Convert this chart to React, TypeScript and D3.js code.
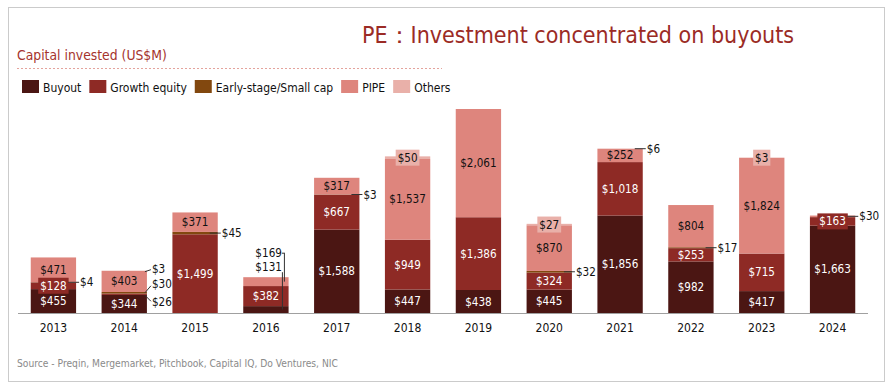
import { useEffect, useRef } from "react";
import * as d3 from "d3";

// capital invested, US$M
const years = ["2013", "2014", "2015", "2016", "2017", "2018", "2019", "2020", "2021", "2022", "2023", "2024"];
const buyout = [455, 344, 0, 131, 1588, 447, 438, 445, 1856, 982, 417, 1663];
const growth = [128, 26, 1499, 382, 667, 949, 1386, 324, 1018, 253, 715, 163];
const early = [4, 30, 45, 0, 3, 0, 0, 32, 0, 17, 0, 0];
const pipe = [471, 403, 371, 169, 317, 1537, 2061, 870, 252, 804, 1824, 30];
const others = [0, 3, 0, 0, 0, 50, 0, 27, 6, 0, 3, 0];

const seriesNames = ["Buyout", "Growth equity", "Early-stage/Small cap", "PIPE", "Others"];
const seriesValues = [buyout, growth, early, pipe, others];
const colors = ["#4b1613", "#8e2a25", "#82480f", "#de857d", "#e9b0a9"];
const darkText = [true, true, true, false, false];

const FONT = "'DejaVu Sans Condensed', 'DejaVu Sans', sans-serif";

export default function App() {
  const svgRef = useRef<SVGSVGElement>(null);

  useEffect(() => {
    if (!svgRef.current) return;
    const svg = d3.select(svgRef.current);
    svg.selectAll("*").remove();
    svg.style("font-family", FONT);

    const baseline = 313;
    const rows = years.map((yr, i) => {
      const r: Record<string, any> = { year: yr };
      seriesNames.forEach((s, k) => (r[s] = seriesValues[k][i]));
      return r;
    });
    const totals = years.map((_, i) => d3.sum(seriesValues, (v) => v[i]));

    const x = d3.scaleBand().domain(years).range([18, 868]).paddingInner(0.36).paddingOuter(0.18);
    const y = d3.scaleLinear().domain([0, d3.max(totals) as number]).range([baseline, 109]);
    const stack = d3.stack<any>().keys(seriesNames)(rows);

    // frame
    svg.append("rect").attr("x", 8.5).attr("y", 7.5).attr("width", 876).attr("height", 374)
      .attr("fill", "#fff").attr("stroke", "#cbcbcb");

    // title
    svg.append("text").attr("x", 362).attr("y", 43).attr("fill", "#9b2b25")
      .style("font-size", "23px").text("PE：Investment concentrated on buyouts");

    svg.append("text").attr("x", 17).attr("y", 60).attr("fill", "#a5342d")
      .style("font-size", "13.8px").text("Capital invested (US$M)");
    svg.append("line").attr("x1", 17).attr("x2", 442).attr("y1", 68.5).attr("y2", 68.5)
      .attr("stroke", "#e4a39c").attr("stroke-dasharray", "2,2");

    // legend
    let lx = 22;
    seriesNames.forEach((s, k) => {
      svg.append("rect").attr("x", lx).attr("y", 80).attr("width", 17).attr("height", 13).attr("fill", colors[k]);
      const t = svg.append("text").attr("x", lx + 21).attr("y", 91.5).attr("fill", "#111")
        .style("font-size", "12px").text(s);
      const w = (t.node() as SVGTextElement).getComputedTextLength();
      lx += 21 + w + 8;
    });

    // bars
    const g = svg.append("g");
    stack.forEach((layer, k) => {
      g.selectAll(null).data(layer).enter().append("rect")
        .attr("x", (d: any) => x(d.data.year) as number)
        .attr("y", (d: any) => y(d[1]))
        .attr("width", x.bandwidth())
        .attr("height", (d: any) => y(d[0]) - y(d[1]))
        .attr("fill", colors[k]);
    });

    // axis
    const axis = svg.append("g").attr("transform", `translate(0,${baseline})`)
      .call(d3.axisBottom(x).tickSize(0).tickPadding(10));
    axis.select(".domain").attr("stroke", "#a0a0a0").attr("d", "M18,0.5H868");
    axis.selectAll("text").style("font-size", "12px").style("font-family", FONT).attr("fill", "#111");

    // leader-line labels (small slices)
    const leaders: Record<string, string> = {
      "2013|2": "right", "2014|1": "diagDown", "2014|2": "diagUp", "2014|4": "up",
      "2015|2": "right", "2016|0": "stackLow", "2016|3": "stackHigh", "2017|2": "right",
      "2020|2": "right", "2021|4": "right", "2022|2": "right", "2024|3": "right",
    };

    const lab = svg.append("g").style("font-size", "11.6px");
    stack.forEach((layer, k) => {
      layer.forEach((d: any, i) => {
        const v = seriesValues[k][i];
        if (!v) return;
        const yr = years[i];
        const x0 = x(yr) as number;
        const cx = x0 + x.bandwidth() / 2;
        const right = x0 + x.bandwidth();
        const top = y(d[1]);
        const mid = (y(d[0]) + y(d[1])) / 2;
        const h = y(d[0]) - y(d[1]);
        const txt = "$" + d3.format(",")(v);
        const kind = leaders[yr + "|" + k];
        if (kind) {
          const line = (x1: number, y1: number, x2: number, y2: number) =>
            lab.append("line").attr("x1", x1).attr("y1", y1).attr("x2", x2).attr("y2", y2)
              .attr("stroke", "#333").attr("stroke-width", 1);
          const text = (tx: number, ty: number, anchor = "start") =>
            lab.append("text").attr("x", tx).attr("y", ty).attr("text-anchor", anchor)
              .attr("dominant-baseline", "central").attr("fill", "#111").text(txt);
          if (kind === "right") {
            line(right - 8, mid, right + 3, mid);
            text(right + 4, mid);
          } else if (kind === "up") {
            line(right - 2, top + 1, right + 4, top - 1);
            text(right + 5, top - 2);
          } else if (kind === "diagUp") {
            line(right - 2, mid, right + 4, mid - 7);
            text(right + 5, mid - 9);
          } else if (kind === "diagDown") {
            line(right - 2, mid + 1, right + 4, mid + 7);
            text(right + 5, mid + 8);
          } else if (kind === "stackHigh") {
            const ty = y(totals[i]) - 24;
            line(cx + 16, ty, cx + 19, ty);
            line(cx + 18.5, ty, cx + 18.5, mid);
            text(cx + 16, ty, "end");
          } else if (kind === "stackLow") {
            const ty = y(totals[i]) - 10;
            line(cx + 16.5, ty + 5, cx + 16.5, mid);
            text(cx + 16, ty, "end");
          }
          return;
        }
        if (h < 12) {
          const w = txt.length * 6.6 + 4;
          lab.append("rect").attr("x", cx - w / 2).attr("y", mid - 8).attr("width", w).attr("height", 16)
            .attr("fill", colors[k]);
        }
        lab.append("text").attr("x", cx).attr("y", mid).attr("text-anchor", "middle")
          .attr("dominant-baseline", "central").attr("fill", darkText[k] ? "#fff" : "#111").text(txt);
      });
    });

    // source
    svg.append("text").attr("x", 17).attr("y", 367).attr("fill", "#8a8a8a")
      .style("font-size", "10.2px").text("Source - Preqin, Mergemarket, Pitchbook, Capital IQ, Do Ventures, NIC");
  }, []);

  return (
    <svg ref={svgRef} width={895} height={389}
      style={{ position: "absolute", left: 0, top: 0, background: "#fff" }} />
  );
}
